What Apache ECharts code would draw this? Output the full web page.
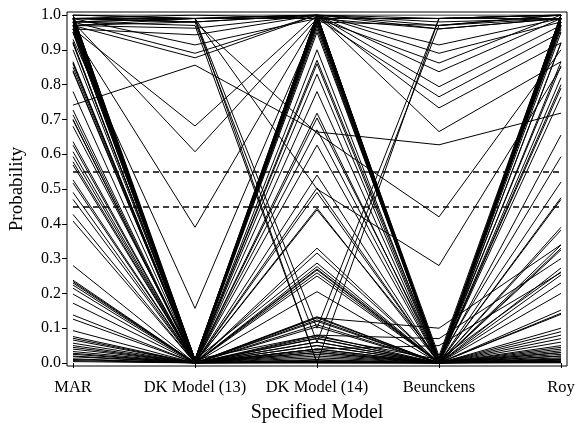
<!DOCTYPE html>
<html>
<head>
<meta charset="utf-8">
<script src="https://cdn.jsdelivr.net/npm/echarts@6/dist/echarts.min.js"></script>
<style>html,body{margin:0;padding:0;background:#fff}#c{width:575px;height:423px}</style>
</head>
<body>
<div id="c"></div>
<script>
var categories = ["MAR", "DK Model (13)", "DK Model (14)", "Beunckens", "Roy"];
var yTicks = [0, 0.1, 0.2, 0.3, 0.4, 0.5, 0.6, 0.7, 0.8, 0.9, 1.0];
var refLines = [0.55, 0.45];

// one entry per subject line, same index across the five arrays
var mar = [1.00,0.99,0.99,0.98,0.98,0.97,0.97,0.96,0.99,1.00,0.98,0.96,0.99,0.97,1.00,0.98,0.95,0.99,
  0.92,0.86,0.84,0.70,
  1.00,0.99,1.00,0.99,0.98,0.99,0.97,0.96,0.99,0.98,0.97,1.00,0.99,0.96,0.98,0.95,0.93,0.741,
  0.99,0.98,0.02,0.01,
  0.923,0.918,0.866,0.862,0.85,0.837,0.78,0.727,0.713,0.698,0.68,0.636,0.626,0.607,0.593,0.578,0.569,0.526,0.517,0.49,0.47,0.427,0.408,0.28,
  0.238,0.234,0.23,0.224,0.215,0.198,0.172,0.138,0.126,0.093,0.076,0.071,0.066,0.057,0.05,0.045,0.04,0.033,0.028,0.025,0.018,0.012,0.007,0.004,
  0.99,0.97,0.95,0.96,0.90,0.98,0.97];
var dk13 = [0.00,0.00,0.01,0.00,0.00,0.01,0.00,0.00,0.00,0.01,0.00,0.01,0.00,0.00,0.00,0.01,0.00,0.00,
  0.00,0.00,0.00,0.00,
  1.00,0.99,0.99,1.00,0.99,0.98,0.962,0.943,0.914,0.89,0.877,0.99,0.98,0.681,0.607,0.39,0.157,0.856,
  0.99,0.97,0.00,0.00,
  0.00,0.00,0.00,0.00,0.00,0.00,0.00,0.00,0.00,0.00,0.01,0.00,0.00,0.00,0.00,0.00,0.00,0.00,0.00,0.00,0.00,0.00,0.00,0.00,
  0.00,0.00,0.00,0.00,0.00,0.00,0.00,0.00,0.00,0.00,0.00,0.00,0.00,0.00,0.00,0.00,0.00,0.00,0.00,0.00,0.00,0.00,0.00,0.00,
  0.98,0.99,0.00,0.01,0.00,0.99,0.98];
var dk14 = [1.00,1.00,0.99,0.99,1.00,0.98,0.99,0.98,0.97,0.99,0.96,1.00,0.98,0.97,0.99,1.00,0.99,0.95,
  0.90,0.87,0.86,0.83,
  1.00,1.00,1.00,0.99,1.00,1.00,1.00,1.00,0.99,1.00,1.00,0.99,1.00,1.00,0.99,0.99,0.98,0.664,
  0.00,0.00,0.00,0.00,
  0.78,0.718,0.704,0.67,0.626,0.503,0.49,0.445,0.44,0.316,0.287,0.277,0.267,0.259,0.205,0.133,0.124,0.104,0.076,0.071,0.06,0.05,0.04,0.03,
  0.54,0.33,0.27,0.25,0.13,0.12,0.11,0.08,0.07,0.06,0.05,0.04,0.035,0.03,0.025,0.02,0.015,0.01,0.008,0.005,0.004,0.003,0.002,0.001,
  0.66,0.50,0.13,0.08,0.04,0.10,0.06];
var beunckens = [0.00,0.00,0.01,0.00,0.01,0.00,0.02,0.01,0.00,0.00,0.00,0.00,0.01,0.00,0.00,0.00,0.00,0.01,
  0.00,0.01,0.00,0.00,
  1.00,0.99,0.98,0.99,0.97,0.96,0.914,0.89,0.862,0.837,0.794,0.765,0.733,0.665,0.99,0.96,0.97,0.627,
  0.99,0.00,0.00,0.00,
  0.00,0.00,0.01,0.00,0.00,0.00,0.00,0.00,0.01,0.00,0.00,0.00,0.00,0.00,0.00,0.00,0.00,0.00,0.01,0.00,0.00,0.00,0.00,0.00,
  0.00,0.00,0.00,0.00,0.00,0.00,0.00,0.00,0.00,0.00,0.00,0.00,0.00,0.00,0.00,0.00,0.00,0.00,0.00,0.00,0.00,0.00,0.00,0.00,
  0.42,0.28,0.10,0.07,0.05,0.99,0.97];
var roy = [1.00,0.99,1.00,0.99,0.98,0.99,1.00,0.98,0.97,0.99,0.99,1.00,0.96,0.98,0.97,0.95,1.00,0.99,
  0.99,0.98,0.97,0.92,
  1.00,1.00,0.99,0.99,1.00,0.99,0.99,0.98,1.00,0.99,0.97,0.95,0.92,0.866,1.00,0.99,1.00,0.718,
  1.00,0.03,0.01,0.02,
  0.92,0.866,0.854,0.82,0.80,0.79,0.765,0.655,0.593,0.52,0.475,0.47,0.39,0.382,0.339,0.33,0.325,0.273,0.262,0.253,0.23,0.20,0.152,0.143,
  0.14,0.10,0.09,0.08,0.07,0.06,0.05,0.045,0.04,0.035,0.03,0.025,0.02,0.015,0.012,0.01,0.008,0.006,0.005,0.004,0.003,0.002,0.001,0.0,
  0.90,0.85,0.34,0.30,0.26,1.00,0.99];

var FONT = "'Liberation Serif', 'Times New Roman', serif";
var series = [];
for (var i = 0; i < mar.length; i++) {
  series.push({
    type: 'line', silent: true, symbol: 'none',
    lineStyle: { color: '#000', width: 1 },
    data: [mar[i], dk13[i], dk14[i], beunckens[i], roy[i]]
  });
}
series.push({
  type: 'line', silent: true, symbol: 'none', data: [],
  markLine: {
    silent: true, symbol: 'none', label: { show: false },
    lineStyle: { color: '#000', width: 1.6, type: [6, 4] },
    data: refLines.map(function (v) { return { yAxis: v }; })
  }
});

var chart = echarts.init(document.getElementById('c'));
chart.setOption({
  animation: false,
  backgroundColor: '#fff',
  grid: { left: 73, right: 14, top: 15, bottom: 60, containLabel: false, outerBoundsMode: 'none' },
  xAxis: {
    type: 'category', data: categories, boundaryGap: false, offset: 3,
    axisLine: { show: false },
    axisTick: { show: true, length: 5, interval: 0, lineStyle: { color: '#000' } },
    axisLabel: { color: '#000', fontFamily: FONT, fontSize: 16.5, margin: 13, interval: 0, hideOverlap: false },
    name: 'Specified Model', nameLocation: 'middle', nameGap: 37,
    nameTextStyle: { color: '#000', fontFamily: FONT, fontSize: 20 }
  },
  yAxis: {
    type: 'value', min: 0, max: 1, interval: 0.1, offset: 6,
    axisLine: { show: false },
    axisTick: { show: true, length: 5, lineStyle: { color: '#000' } },
    splitLine: { show: false },
    axisLabel: { color: '#000', fontFamily: FONT, fontSize: 16, margin: 6,
      formatter: function (v) { return v.toFixed(1); } },
    name: 'Probability', nameLocation: 'middle', nameGap: 40,
    nameTextStyle: { color: '#000', fontFamily: FONT, fontSize: 19 }
  },
  graphic: [{
    type: 'rect', silent: true, z: 100,
    shape: { x: 67, y: 12, width: 500, height: 354 },
    style: { fill: 'none', stroke: '#000', lineWidth: 1 }
  }],
  series: series
});
</script>
</body>
</html>
